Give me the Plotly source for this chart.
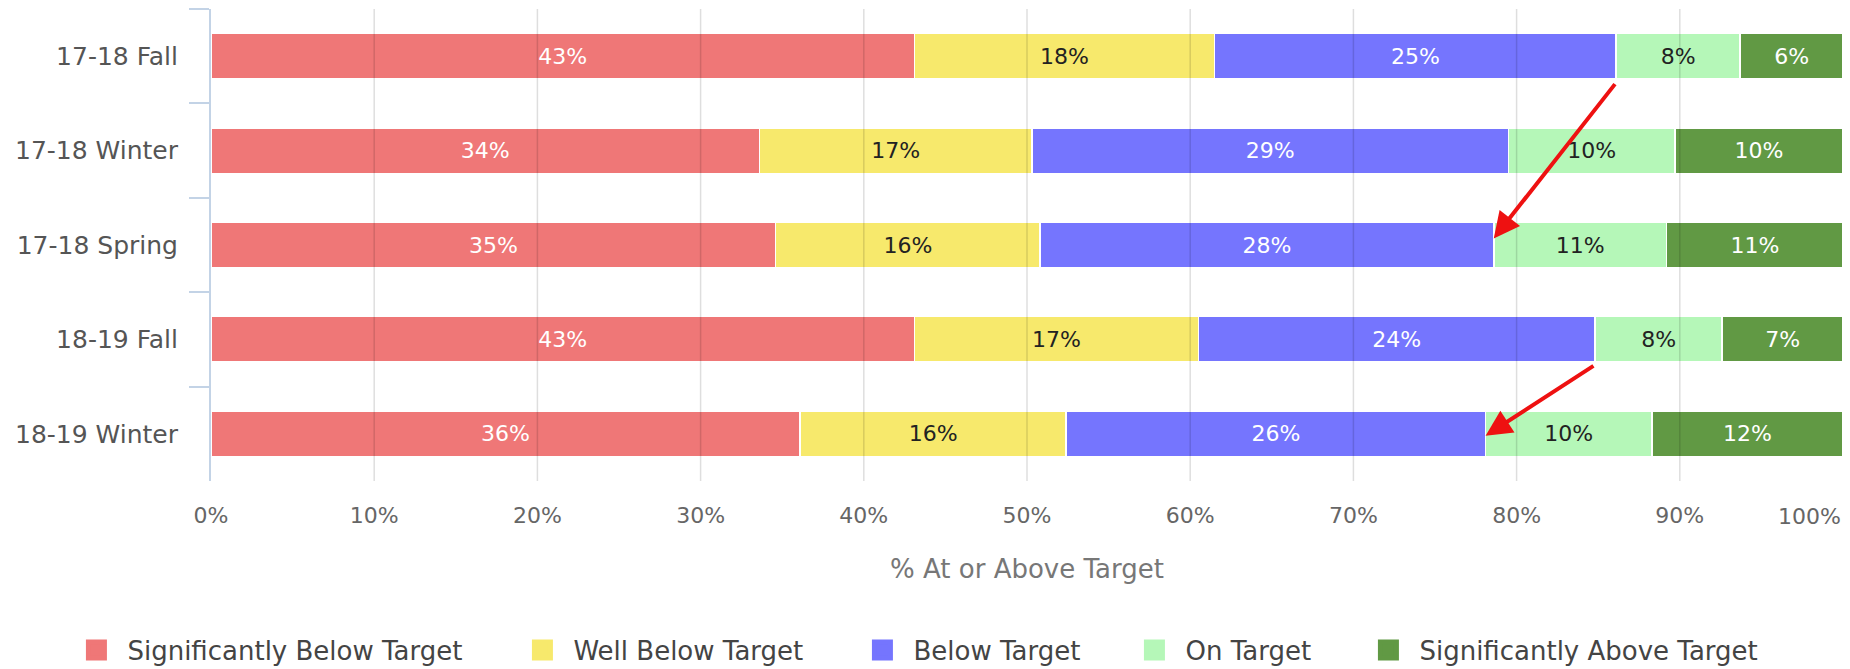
import plotly.graph_objects as go

# ---- data ----
categories = ["17-18 Fall", "17-18 Winter", "17-18 Spring", "18-19 Fall", "18-19 Winter"]
series_names = ["Significantly Below Target", "Well Below Target", "Below Target",
                "On Target", "Significantly Above Target"]
sig_below = [43.1, 33.6, 34.6, 43.1, 36.1]
well_below = [18.4, 16.7, 16.2, 17.4, 16.3]
below = [24.6, 29.2, 27.8, 24.3, 25.7]
on_target = [7.6, 10.2, 10.6, 7.8, 10.2]
sig_above = [6.3, 10.3, 10.8, 7.4, 11.7]
x_ticks = [0, 10, 20, 30, 40, 50, 60, 70, 80, 90, 100]
x_tick_labels = ["0%", "10%", "20%", "30%", "40%", "50%", "60%", "70%", "80%", "90%", "100%"]

series_values = [sig_below, well_below, below, on_target, sig_above]
colors = ["#ef7777", "#f7e96c", "#7575fe", "#b5f7b8", "#619944"]
text_colors = ["#ffffff", "#222222", "#ffffff", "#222222", "#ffffff"]
legend_entry_widths = [379, 273, 205, 167, 355]   # layout: spacing of legend entries

FONT = "DejaVu Sans"

fig = go.Figure()
for name, vals, col, tcol, lw in zip(series_names, series_values, colors, text_colors,
                                     legend_entry_widths):
    fig.add_trace(go.Bar(
        y=categories, x=vals, name=name, orientation="h",
        marker=dict(color=col, line=dict(color="#ffffff", width=1.5)),
        text=vals, texttemplate="%{x:.0f}%", textposition="inside",
        insidetextanchor="middle", textangle=0, constraintext="none",
        textfont=dict(family=FONT, size=22, color=tcol),
        showlegend=False, hoverinfo="skip",
    ))
    # legend entry (bigger swatch than a bar's legend icon)
    fig.add_trace(go.Scatter(
        x=[None], y=[None], mode="markers", name=name,
        marker=dict(symbol="square", size=16, color=col, line=dict(color=col, width=5)),
        showlegend=True, legendwidth=lw,
    ))

# gridlines drawn over the bars (as in the reference)
shapes = []
for v in x_ticks[1:]:
    shapes.append(dict(type="line", xref="x", yref="paper", x0=v, x1=v, y0=0, y1=1,
                       line=dict(color="rgba(0,0,0,0.13)", width=1.5), layer="above"))

# arrows: from end of "Below Target" on one row to end of it on another
cum3 = [a + b + c for a, b, c in zip(sig_below, well_below, below)]
arrows = [(0, 2, 0.28, 1.93), (3, 4, 0.27, 4.02)]
annotations = []
for src, dst, ysrc_off, ydst in arrows:
    annotations.append(dict(
        x=cum3[dst], y=ydst, xref="x", yref="y",
        ax=cum3[src], ay=src + ysrc_off, axref="x", ayref="y",
        text="", showarrow=True, arrowhead=2, arrowsize=1.3, arrowwidth=4,
        arrowcolor="#ee1111", standoff=0, startstandoff=0,
    ))

# last tick label is right-aligned to its tick so it stays inside the page (as in the reference)
annotations.append(dict(
    x=x_ticks[-1], y=0, xref="x", yref="paper", xanchor="right", yanchor="middle",
    yshift=-35, text=x_tick_labels[-1], showarrow=False,
    font=dict(family=FONT, size=22, color="#666666"),
))
axis_ticktext = x_tick_labels[:-1] + [""]

# the page body has an 8px margin; the figure is sized/offset to land on the reference grid
fig.update_layout(
    width=1842, height=661,
    margin=dict(l=203, r=7, t=1, b=188, autoexpand=False),
    paper_bgcolor="#ffffff", plot_bgcolor="#ffffff",
    barmode="stack", bargap=0.52,
    font=dict(family=FONT, size=25, color="#555555"),
    shapes=shapes, annotations=annotations,
    xaxis=dict(
        range=[0, 100], tickmode="array", tickvals=x_ticks, ticktext=axis_ticktext,
        showgrid=False, zeroline=False, showline=False, ticks="",
        tickfont=dict(family=FONT, size=22, color="#666666"),
        ticklabelstandoff=19, automargin=False,
        title=dict(text="% At or Above Target", standoff=32,
                   font=dict(family=FONT, size=26, color="#777777")),
    ),
    yaxis=dict(
        type="category", categoryorder="array", categoryarray=categories,
        autorange="reversed", automargin=False,
        showgrid=False, zeroline=False,
        showline=True, linecolor="#c3d3e6", linewidth=2,
        ticks="outside", tickson="boundaries", ticklen=20, tickwidth=2,
        tickcolor="#c3d3e6",
        tickfont=dict(family=FONT, size=25, color="#555555"),
        ticklabelstandoff=26,
    ),
    legend=dict(
        orientation="h", xref="paper", yref="paper",
        x=-0.0892, xanchor="left", y=-0.358, yanchor="middle",
        traceorder="normal", itemwidth=52,
        font=dict(family=FONT, size=26, color="#444444"),
        itemclick=False,
    ),
)

fig.write_html("out.html")
